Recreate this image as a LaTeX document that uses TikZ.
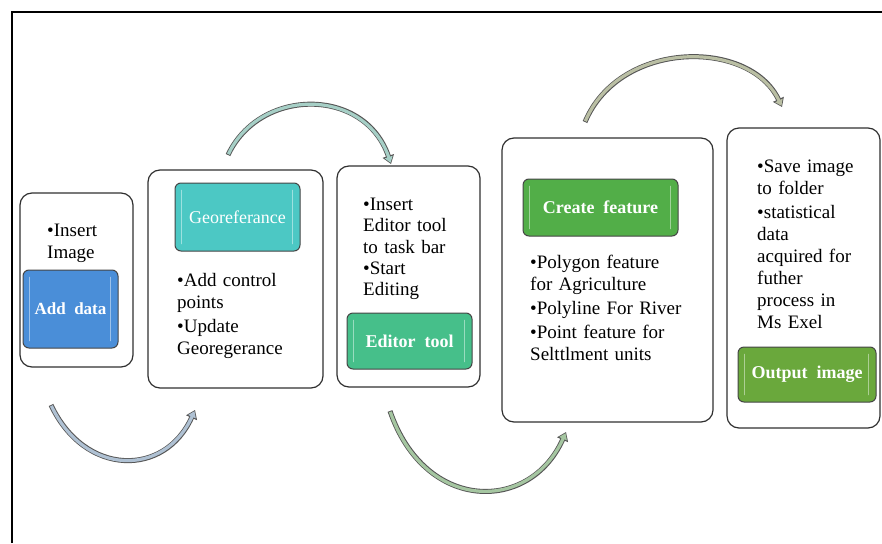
\documentclass[tikz,border=0pt]{standalone}
\usepackage{fontspec}
\setmainfont{Liberation Serif}
\usetikzlibrary{arrows.meta}
\definecolor{edgegrey}{HTML}{303030}
\definecolor{arcedge}{HTML}{555555}
\definecolor{cadd}{HTML}{4A8ED8}
\definecolor{cgeo}{HTML}{4CC8C4}
\definecolor{cedit}{HTML}{46BF8A}
\definecolor{ccreate}{HTML}{52AE48}
\definecolor{cout}{HTML}{6AA83C}
\definecolor{aone}{HTML}{AFC1D3}
\definecolor{atwo}{HTML}{A6CFC6}
\definecolor{athree}{HTML}{A5C6A1}
\definecolor{afour}{HTML}{BABFA4}
\newlength{\bulw}
\newcommand{\bfirst}[1]{\settowidth{\bulw}{\textbullet}\hangindent=\bulw\hangafter=1\textbullet#1}
\newcommand{\bitem}[1]{\par\settowidth{\bulw}{\textbullet}\hangindent=\bulw\hangafter=1\noindent\textbullet#1}
\tikzset{
  outerbox/.style={draw=edgegrey, line width=1.2pt, rounded corners=12pt, fill=white, inner sep=0pt},
  labelbox/.style={draw=edgegrey!90, line width=1pt, rounded corners=6pt, fill=#1, inner sep=0pt, text=white},
  barline/.style={draw=white!45!#1, line width=1.6pt, line cap=round},
  bodytext/.style={anchor=north west, inner sep=0pt, text width=220pt, align=left},
  arcarrow/.style={line width=3.2pt, draw=#1, -{Triangle[length=6pt,width=8pt]}, shorten >=1.3pt, shorten <=0.9pt,
     preaction={draw=arcedge, line width=5pt, shorten >=0pt, shorten <=0pt, -{Triangle[length=8.5pt,width=11.5pt]}}},
  framel/.style={draw=black, line width=1.5pt}
}
\begin{document}
\begin{tikzpicture}[x=1pt,y=-1pt]
\useasboundingbox (0,0) rectangle (882,543);
\fill[white] (0,0) rectangle (882,543);
\draw[framel] (12,543) -- (12,12) -- (882,12);

% outer boxes
\node[outerbox, minimum width=113pt, minimum height=174pt] (b1) at (76.5,280) {};
\node[outerbox, minimum width=175pt, minimum height=218pt] (b2) at (235.5,279) {};
\node[outerbox, minimum width=143pt, minimum height=221pt] (b3) at (408.5,276.5) {};
\node[outerbox, minimum width=211pt, minimum height=284pt] (b4) at (607.5,280) {};
\node[outerbox, minimum width=153pt, minimum height=300pt] (b5) at (803.5,278) {};

% label boxes
\node[labelbox=cadd, minimum width=95pt, minimum height=78pt] (ad) at (70.5,309) {};
\node[labelbox=cgeo, minimum width=125pt, minimum height=68pt] (geo) at (237.5,217) {};
\node[labelbox=cedit, minimum width=125pt, minimum height=56pt] (ed) at (409.5,341) {};
\node[labelbox=ccreate, minimum width=155pt, minimum height=57pt] (cf) at (600.5,207.5) {};
\node[labelbox=cout, minimum width=138pt, minimum height=55pt] (oi) at (807,374.5) {};

% light bevel bars
\foreach \n/\c in {ad/cadd, geo/cgeo, ed/cedit, cf/ccreate, oi/cout}{
  \draw[barline=\c] ([xshift=7pt,yshift=-8pt]\n.north west) -- ([xshift=7pt,yshift=8pt]\n.south west);
  \draw[barline=\c] ([xshift=-8pt,yshift=-8pt]\n.north east) -- ([xshift=-8pt,yshift=8pt]\n.south east);
}

% label texts
\node[text=white, font=\fontsize{17}{20}\selectfont\bfseries] (adt) at (ad.center) {Add\ \ data};
\node[text=white, font=\fontsize{18}{21}\selectfont] (geot) at (geo.center) {Georeferance};
\node[text=white, font=\fontsize{18}{21}\selectfont\bfseries] (edt) at (ed.center) {Editor\ \ tool};
\node[text=white, font=\fontsize{18}{21}\selectfont\bfseries] (cft) at (cf.center) {Create\ \ feature};
\node[text=white, font=\fontsize{18}{21}\selectfont\bfseries] (oit) at (oi.center) {Output\ \ image};

% bullet texts
\node[bodytext, font=\fontsize{19}{22}\selectfont] (t1) at (47,224)
  {\setlength{\parskip}{2pt}\bfirst{Insert\\Image}};
\node[bodytext, font=\fontsize{19}{22}\selectfont] (t2) at (177,273)
  {\setlength{\parskip}{2pt}\bfirst{Add control\\points}\bitem{Update\\Georegerance}};
\node[bodytext, font=\fontsize{19}{21.2}\selectfont] (t3) at (363,198)
  {\setlength{\parskip}{0pt}\bfirst{Insert\\Editor tool\\to task bar}\bitem{Start\\Editing}};
\node[bodytext, font=\fontsize{19}{22}\selectfont] (t4) at (530,255)
  {\setlength{\parskip}{2pt}\bfirst{Polygon feature\\for Agriculture}\bitem{Polyline For River}\bitem{Point feature for\\Selttlment units}};
\node[bodytext, font=\fontsize{19}{22}\selectfont] (t5) at (757,160)
  {\setlength{\parskip}{2pt}\bfirst{Save image\\to folder}\bitem{statistical\\data\\acquired for\\futher\\process in\\Ms Exel}};

% arc arrow end points
\coordinate (a1s) at (51,405);  \coordinate (a1e) at (195,410);
\coordinate (a2s) at (228,155); \coordinate (a2e) at (391,164);
\coordinate (a3s) at (390,411); \coordinate (a3e) at (566,432);
\coordinate (a4s) at (585,122); \coordinate (a4e) at (782,107);

\draw[arcarrow=aone] (a1s) .. controls (85,477) and (165,477) .. (a1e);
\draw[arcarrow=atwo] (a2s) .. controls (260,87) and (365,87) .. (a2e);
\draw[arcarrow=athree] (a3s) .. controls (425,513) and (530,513) .. (a3e);
\draw[arcarrow=afour] (a4s) .. controls (620,39) and (750,39) .. (a4e);
\end{tikzpicture}
\end{document}
